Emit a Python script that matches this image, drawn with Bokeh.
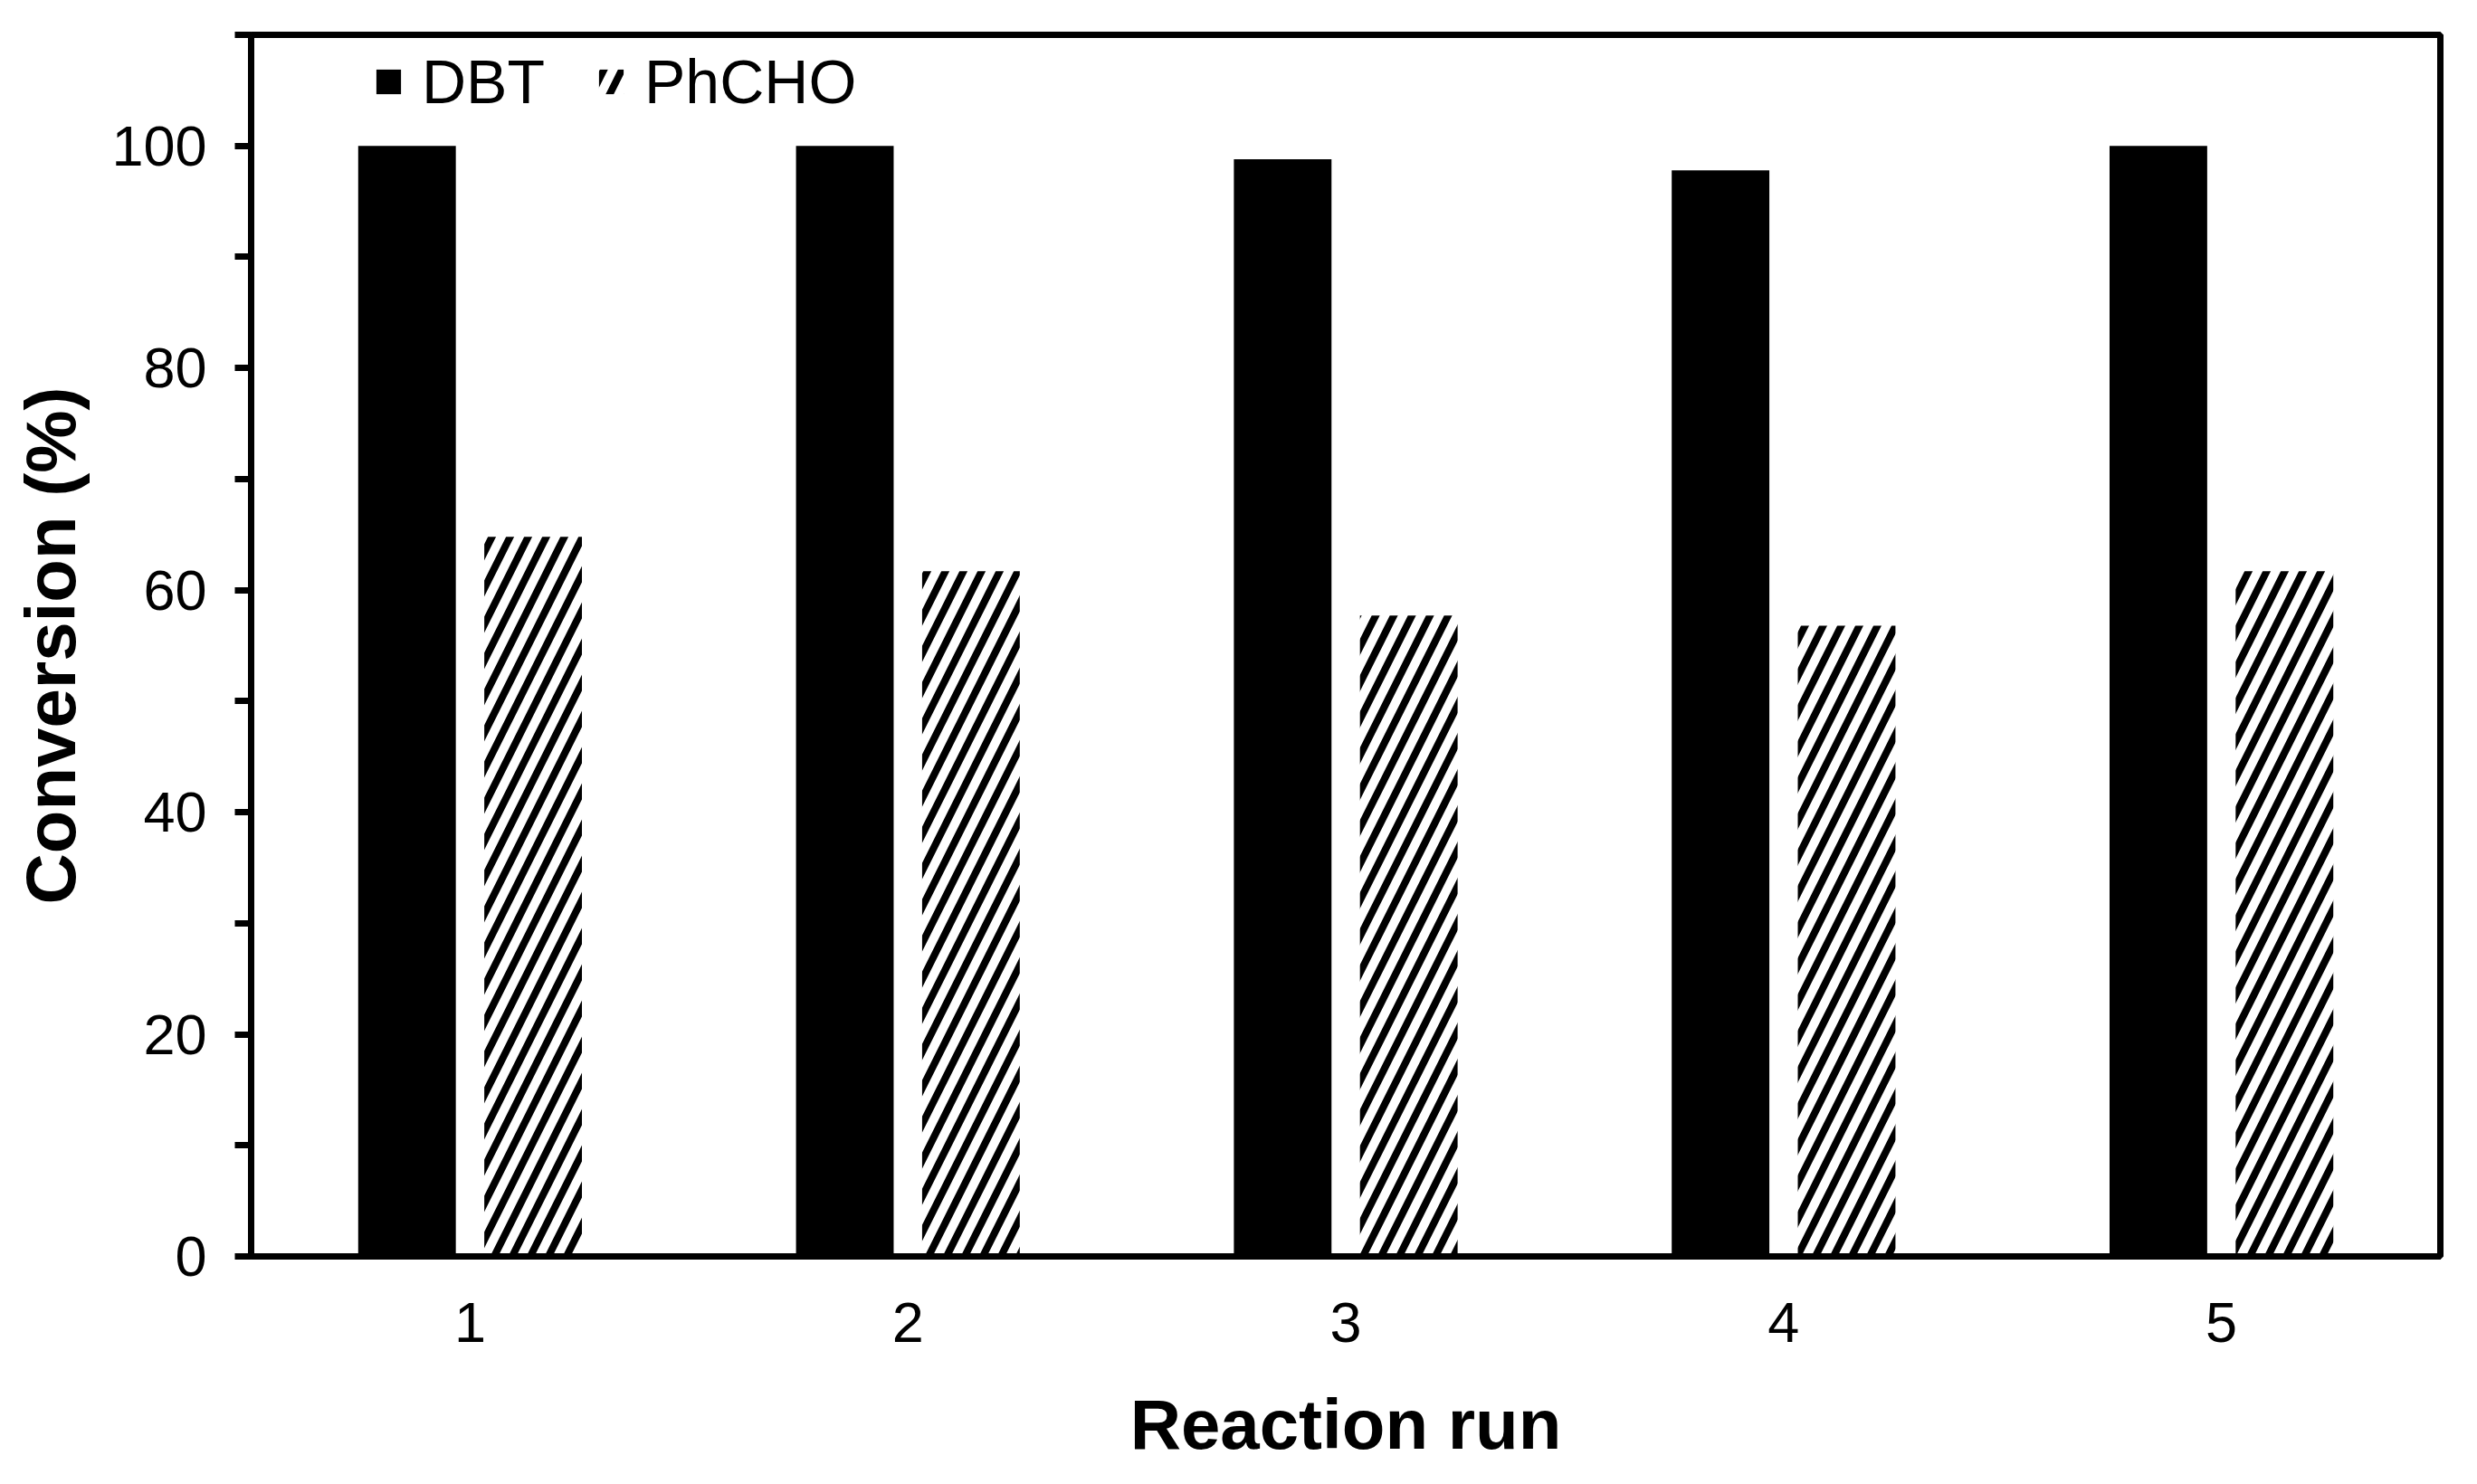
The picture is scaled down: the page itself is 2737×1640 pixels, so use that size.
from bokeh.plotting import figure
from bokeh.models import Range1d, FixedTicker, ColumnDataSource, Legend, LegendItem, Spacer
from bokeh.layouts import row
from bokeh.transform import dodge
from bokeh.embed import file_html
from bokeh.resources import INLINE

# ---- data ----
runs = [1, 2, 3, 4, 5]
run_labels = ["1", "2", "3", "4", "5"]
dbt = [100, 100, 98.8, 97.8, 100]
phcho = [64.8, 61.7, 57.7, 56.8, 61.7]
y_ticks = [0, 20, 40, 60, 80, 100]
y_minor_ticks = [10, 30, 50, 70, 90, 110]
series_names = ["DBT", "PhCHO"]

FONT = "Liberation Sans"

src = ColumnDataSource(dict(run=runs, dbt=dbt, phcho=phcho))

p = figure(
    output_backend="svg", toolbar_location=None,
    x_range=Range1d(0.5, 5.5), y_range=Range1d(0, 110),
    frame_width=2419, frame_height=1350,
    min_border_left=10, min_border_top=38, min_border_right=20, min_border_bottom=244,
    background_fill_color="white", border_fill_color="white",
)

r1 = p.vbar(x=dodge("run", -0.144, range=p.x_range), top="dbt", width=0.223, source=src,
            fill_color="black", line_color=None)
r2 = p.vbar(x=dodge("run", 0.144, range=p.x_range), top="phcho", width=0.223, source=src,
            fill_color="white", line_color=None, hatch_pattern="/", hatch_color="black",
            hatch_scale=40, hatch_weight=8)

legend = Legend(
    items=[LegendItem(label=series_names[0], renderers=[r1]),
           LegendItem(label=series_names[1], renderers=[r2])],
    orientation="horizontal", location=(135, 1259),
    glyph_width=34, glyph_height=34, label_standoff=20, spacing=56,
    padding=0, margin=0, border_line_color=None, background_fill_alpha=0,
    label_text_font=FONT, label_text_font_size="68px", label_text_color="black",
)
p.add_layout(legend)

p.grid.visible = False
p.outline_line_color = "black"
p.outline_line_width = 7

# x axis
p.xaxis.ticker = FixedTicker(ticks=runs)
p.xaxis.major_label_overrides = {r: l for r, l in zip(runs, run_labels)}
p.xaxis.major_tick_out = 0
p.xaxis.major_tick_in = 0
p.xaxis.minor_tick_out = 0
p.xaxis.minor_tick_in = 0
p.xaxis.axis_label = "Reaction run"
p.xaxis.major_label_standoff = 51
p.xaxis.axis_label_standoff = 44

# y axis
p.yaxis.ticker = FixedTicker(ticks=y_ticks, minor_ticks=y_minor_ticks)
p.yaxis.major_tick_out = 18
p.yaxis.major_tick_in = 0
p.yaxis.minor_tick_out = 18
p.yaxis.minor_tick_in = 0
p.yaxis.major_tick_line_width = 7
p.yaxis.minor_tick_line_width = 7
p.yaxis.axis_label = "Conversion (%)"
p.yaxis.major_label_standoff = 31
p.yaxis.axis_label_standoff = 20

for ax in (p.xaxis, p.yaxis):
    ax.axis_line_width = 7
    ax.axis_line_color = "black"
    ax.major_tick_line_color = "black"
    ax.minor_tick_line_color = "black"
    ax.major_label_text_font = FONT
    ax.major_label_text_font_size = "63px"
    ax.major_label_text_color = "black"
    ax.axis_label_text_font = FONT
    ax.axis_label_text_font_size = "78px"
    ax.axis_label_text_font_style = "bold"
    ax.axis_label_text_color = "black"

layout = row(Spacer(width=9, height=10), p)

open("out.html", "w").write(file_html(layout, INLINE))
